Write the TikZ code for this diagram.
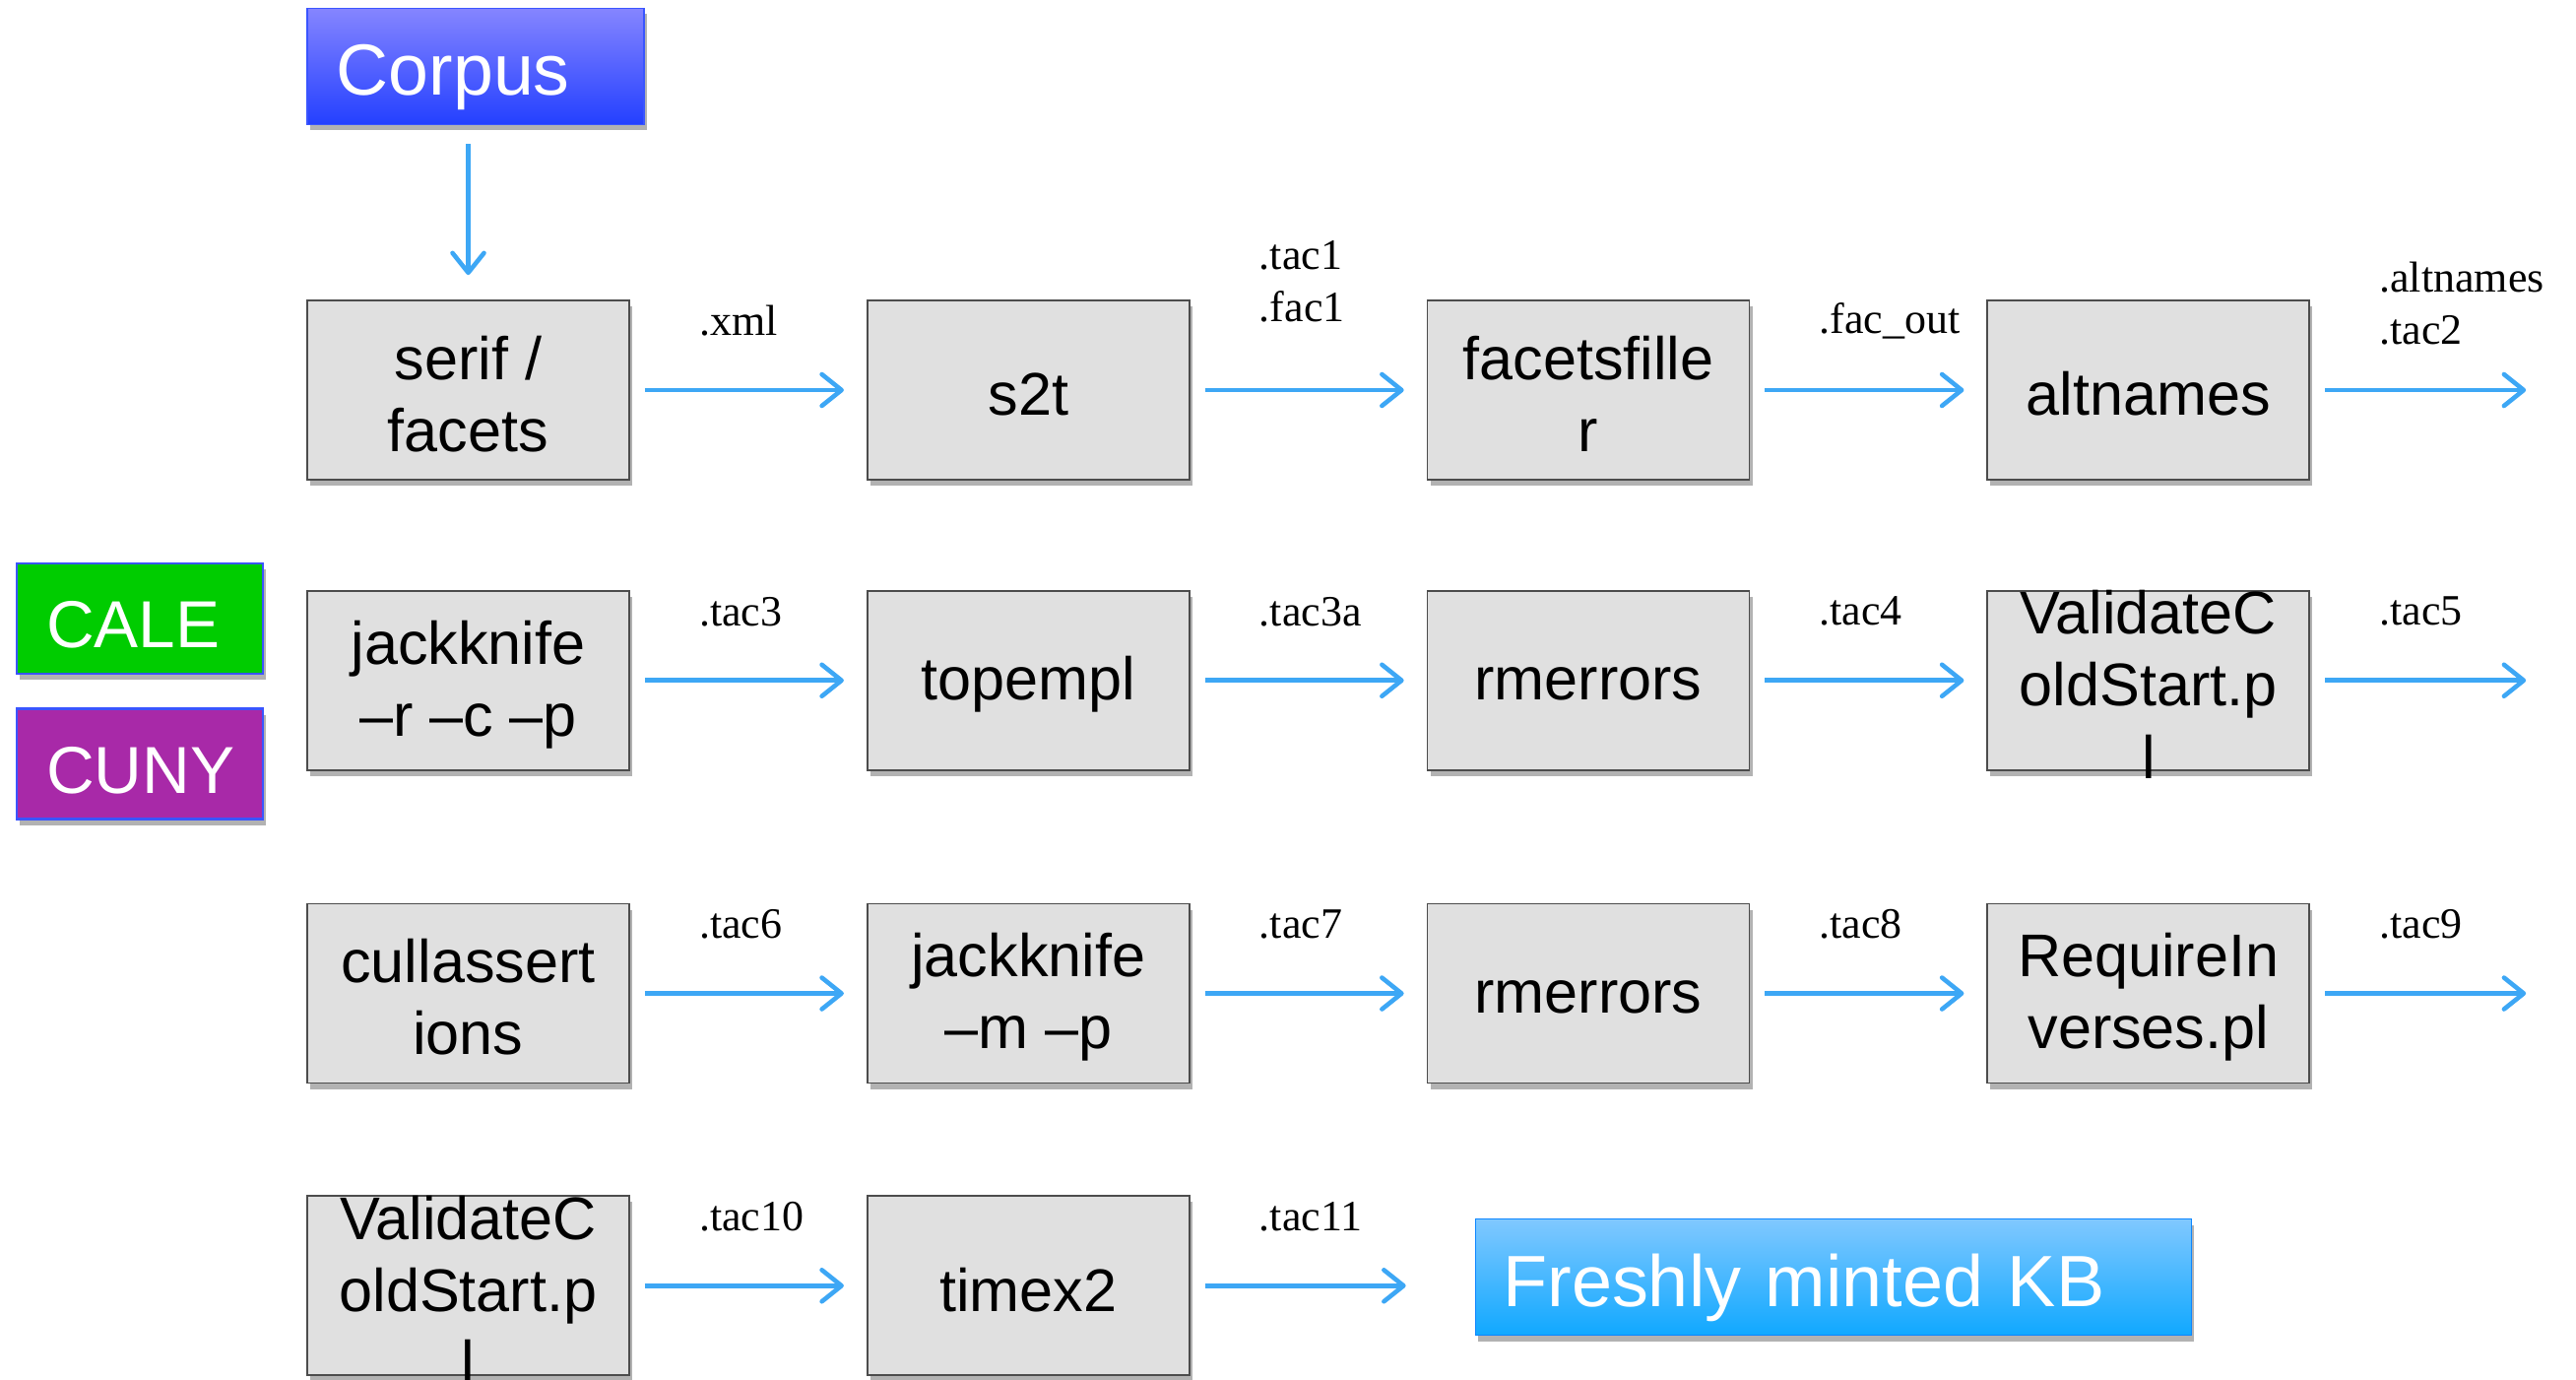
\documentclass[tikz,border=0pt]{standalone}
\usepackage{fontspec}
\setmainfont{Liberation Serif}
\setsansfont{Liberation Sans}
\usetikzlibrary{positioning,calc,shadows,arrows.meta}

\definecolor{boxgrey}{HTML}{E0E0E0}
\definecolor{flowblue}{HTML}{3DA7F5}
\definecolor{corpustop}{HTML}{8585FF}
\definecolor{corpusbottom}{HTML}{2440FF}
\definecolor{edgeblue}{HTML}{3A55FF}
\definecolor{calegreen}{HTML}{00CC00}
\definecolor{cunypurple}{HTML}{A829A8}
\definecolor{kbtop}{HTML}{80C8FF}
\definecolor{kbbottom}{HTML}{10A8FF}

\tikzset{
  softshadow/.style={drop shadow={shadow xshift=0.03cm, shadow yshift=-0.06cm, opacity=0.3, fill=black}},
  procbox/.style={draw=black!70, line width=0.5pt, fill=boxgrey, softshadow,
    minimum width=3.27cm, minimum height=1.82cm, inner sep=0pt,
    label={[boxtext]center:#1}},
  boxtext/.style={font=\sffamily\fontsize{17.4}{20.8}\selectfont, align=center, inner sep=0pt, yshift=-0.04cm},
  flow/.style={flowblue, line width=1.3pt, -{Straight Barb[length=2mm, width=3.2mm, round]},
    shorten <=0.15cm, shorten >=0.23cm},
  tag/.style={font=\fontsize{12.5}{15}\selectfont, text=black, align=left, inner sep=0pt,
    pos=0, anchor=west, xshift=0.68cm, yshift=#1},
  tag/.default=0.70cm,
  banner/.style={text=white, align=left, inner ysep=0pt, text height=0.61cm, text depth=0.02cm, softshadow}
}

\begin{document}
\begin{tikzpicture}
        \useasboundingbox (0,0) rectangle (26.16,-14.00);

        % row 1
        \node[procbox={serif /\\facets}] (serif-facets) at (4.755,-3.96) {};
        \node[procbox=s2t, right = 2.40 of serif-facets] (s2t) {};
        \node[procbox={facetsfille\\r}, right = 2.40 of s2t] (facetsfiller) {};
        \node[procbox=altnames, right = 2.40 of facetsfiller] (altnames) {};
        \coordinate[right = 2.42 of altnames] (row1-out);

        % row 2
        \node[procbox={jackknife\\–r –c –p}, below = 1.11 of serif-facets] (jackknife-rcp) {};
        \node[procbox=topempl, right = 2.40 of jackknife-rcp] (topempl) {};
        \node[procbox=rmerrors, right = 2.40 of topempl] (rmerrors-a) {};
        \node[procbox={ValidateC\\oldStart.p\\l}, right = 2.40 of rmerrors-a] (validate-a) {};
        \coordinate[right = 2.42 of validate-a] (row2-out);

        % row 3
        \node[procbox={cullassert\\ions}, below = 1.34 of jackknife-rcp] (cullassertions) {};
        \node[procbox={jackknife\\–m –p}, right = 2.40 of cullassertions] (jackknife-mp) {};
        \node[procbox=rmerrors, right = 2.40 of jackknife-mp] (rmerrors-b) {};
        \node[procbox={RequireIn\\verses.pl}, right = 2.40 of rmerrors-b] (requireinverses) {};
        \coordinate[right = 2.42 of requireinverses] (row3-out);

        % row 4
        \node[procbox={ValidateC\\oldStart.p\\l}, below = 1.13 of cullassertions] (validate-b) {};
        \node[procbox=timex2, right = 2.40 of validate-b] (timex2) {};
        \node[banner, right = 2.89 of timex2, yshift=0.085cm, text width=6.71cm, inner xsep=0.28cm,
          minimum height=1.18cm, top color=kbtop, bottom color=kbbottom, draw=kbbottom!80!blue,
          font=\sffamily\fontsize{21}{24}\selectfont] (fresh-kb) {Freshly minted KB};

        % source and groups
        \node[banner, above right = 1.77 and 0 of serif-facets.north west, text width=2.82cm,
          inner xsep=0.30cm, minimum height=1.18cm, top color=corpustop, bottom color=corpusbottom,
          draw=edgeblue, font=\sffamily\fontsize{20.9}{24}\selectfont] (corpus) {Corpus};
        \node[banner, fill=calegreen, draw=edgeblue, line width=0.8pt, text width=1.90cm,
          inner xsep=0.30cm, minimum height=1.12cm,
          font=\sffamily\fontsize{19.2}{22}\selectfont] (cale) at (1.42,-6.28) {CALE};
        \node[banner, fill=cunypurple, draw=edgeblue, line width=0.8pt, text width=1.90cm,
          inner xsep=0.30cm, minimum height=1.12cm, below = 0.33 of cale,
          font=\sffamily\fontsize{19.2}{22}\selectfont] (cuny) {CUNY};

        \draw[flow, shorten <=0.19cm, shorten >=0.25cm] (corpus.south -| serif-facets) -- (serif-facets.north);

        \draw[flow] (serif-facets) -- (s2t) node[tag] (lbl-xml) {.xml};
        \draw[flow] (s2t) -- (facetsfiller) node[tag=1.10cm] (lbl-tac1) {.tac1\\.fac1};
        \draw[flow] (facetsfiller) -- (altnames) node[tag] (lbl-facout) {.fac\_out};
        \draw[flow] (altnames) -- (row1-out) node[tag=0.88cm] (lbl-tac2) {.altnames\\.tac2};

        \draw[flow] (jackknife-rcp) -- (topempl) node[tag] (lbl-tac3) {.tac3};
        \draw[flow] (topempl) -- (rmerrors-a) node[tag] (lbl-tac3a) {.tac3a};
        \draw[flow] (rmerrors-a) -- (validate-a) node[tag] (lbl-tac4) {.tac4};
        \draw[flow] (validate-a) -- (row2-out) node[tag] (lbl-tac5) {.tac5};

        \draw[flow] (cullassertions) -- (jackknife-mp) node[tag] (lbl-tac6) {.tac6};
        \draw[flow] (jackknife-mp) -- (rmerrors-b) node[tag] (lbl-tac7) {.tac7};
        \draw[flow] (rmerrors-b) -- (requireinverses) node[tag] (lbl-tac8) {.tac8};
        \draw[flow] (requireinverses) -- (row3-out) node[tag] (lbl-tac9) {.tac9};

        \draw[flow] (validate-b) -- (timex2) node[tag] (lbl-tac10) {.tac10};
        \draw[flow, shorten >=0.70cm] (timex2) -- (timex2 -| fresh-kb.west) node[tag] (lbl-tac11) {.tac11};
      \end{tikzpicture}
\end{document}
